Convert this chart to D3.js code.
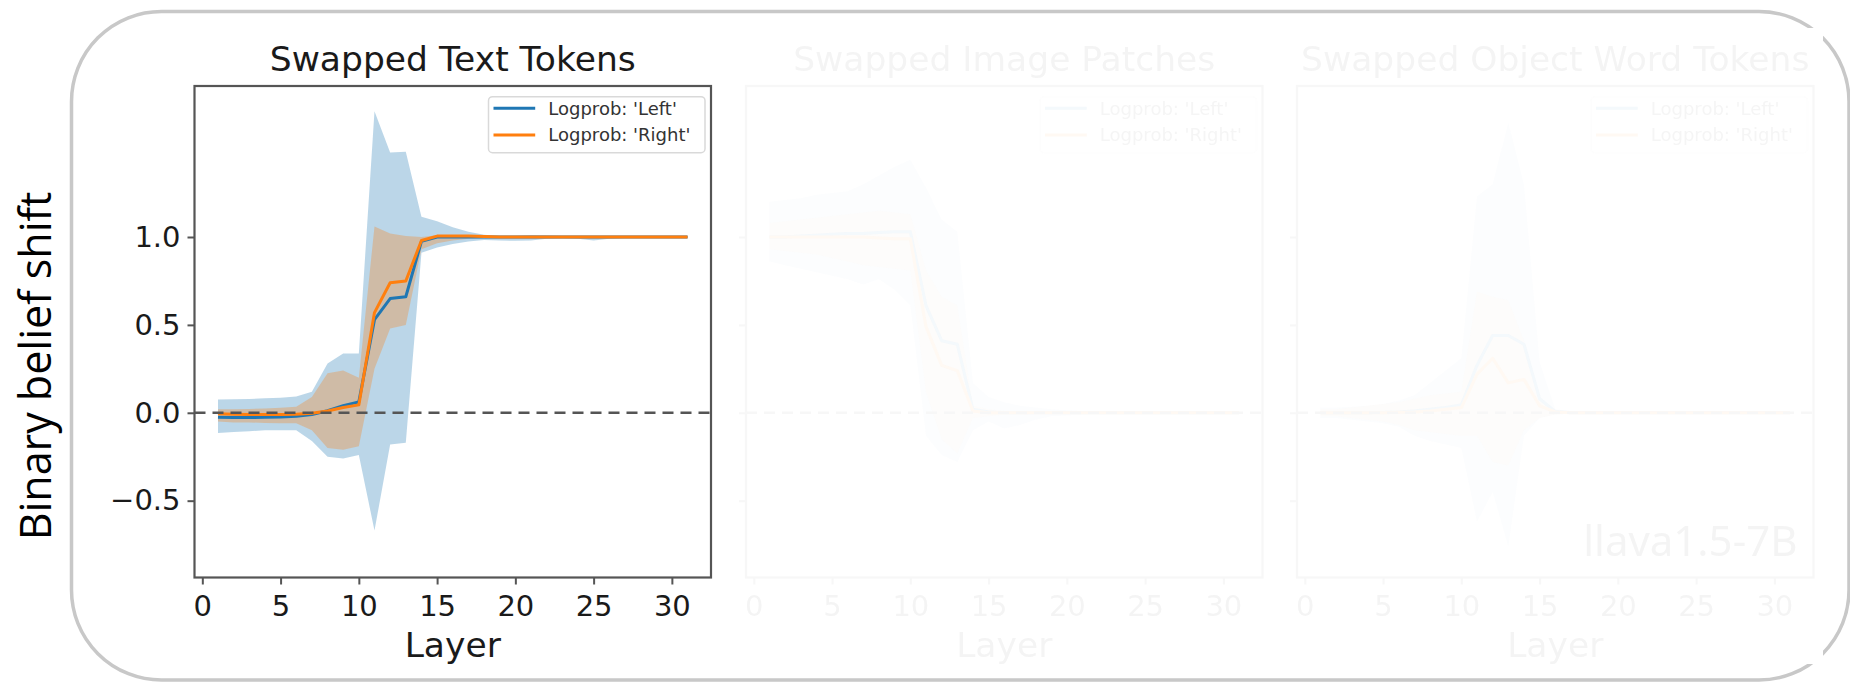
<!DOCTYPE html>
<html>
<head>
<meta charset="utf-8">
<script src="https://cdn.jsdelivr.net/npm/d3@7"></script>
<style>
  html, body { margin: 0; padding: 0; background: #fff; }
  svg { display: block; }
</style>
</head>
<body>
<svg id="chart" width="1850" height="683"></svg>
<script>
// ---- data -------------------------------------------------------------
const layers = [1,2,3,4,5,6,7,8,9,10,11,12,13,14,15,16,17,18,19,20,21,22,23,24,25,26,27,28,29,30,31];

const panelTitles = ["Swapped Text Tokens", "Swapped Image Patches", "Swapped Object Word Tokens"];
const seriesNames = ["Logprob: 'Left'", "Logprob: 'Right'"];
const xTickValues = [0, 5, 10, 15, 20, 25, 30];
const yTickValues = [-0.5, 0.0, 0.5, 1.0];
const modelLabel = "llava1.5-7B";

// Swapped Text Tokens
const textLeftMean  = [-0.025,-0.027,-0.027,-0.026,-0.024,-0.02,-0.01,0.012,0.04,0.062,0.53,0.65,0.66,0.975,1.0,1.0,1.0,1.0,1.0,1.0,1.0,1.0,1.0,1.0,1.0,1.0,1.0,1.0,1.0,1.0,1.0];
const textLeftLo    = [-0.115,-0.11,-0.105,-0.10,-0.10,-0.10,-0.16,-0.25,-0.26,-0.24,-0.67,-0.18,-0.17,0.91,0.94,0.96,0.975,0.983,0.98,0.978,0.98,0.99,0.993,0.99,0.98,0.99,0.994,0.995,0.995,0.995,0.995];
const textLeftHi    = [0.076,0.077,0.079,0.082,0.086,0.092,0.12,0.28,0.337,0.337,1.715,1.48,1.485,1.115,1.09,1.055,1.03,1.013,1.006,1.005,1.01,1.008,1.005,1.005,1.005,1.005,1.005,1.005,1.005,1.005,1.005];
const textRightMean = [-0.005,-0.008,-0.01,-0.01,-0.01,-0.008,-0.003,0.01,0.03,0.045,0.57,0.74,0.75,0.98,1.005,1.005,1.005,1.003,1.0,1.0,1.0,1.0,1.0,1.0,1.0,1.0,1.0,1.0,1.0,1.0,1.0];
const textRightLo   = [-0.05,-0.055,-0.055,-0.058,-0.06,-0.06,-0.1,-0.2,-0.21,-0.19,0.25,0.48,0.5,0.93,0.965,0.98,0.99,0.993,0.995,0.995,0.995,0.995,0.995,0.995,0.995,0.995,0.995,0.995,0.995,0.995,0.995];
const textRightHi   = [0.02,0.02,0.022,0.025,0.028,0.035,0.09,0.225,0.24,0.2,1.06,1.02,1.005,1.0,1.01,1.01,1.008,1.005,1.005,1.005,1.005,1.005,1.005,1.005,1.005,1.005,1.005,1.005,1.005,1.005,1.005];

// Swapped Image Patches
const imgLeftMean  = [1.0,1.0,1.005,1.01,1.015,1.02,1.02,1.025,1.03,1.03,0.61,0.41,0.39,0.02,0.005,0.0,0.0,0.0,0.0,0.0,0.0,0.0,0.0,0.0,0.0,0.0,0.0,0.0,0.0,0.0,0.0];
const imgLeftLo    = [0.86,0.84,0.82,0.80,0.78,0.76,0.73,0.76,0.70,0.61,-0.13,-0.24,-0.28,-0.10,-0.05,-0.09,-0.07,-0.04,-0.02,-0.015,-0.01,-0.01,-0.01,-0.01,-0.01,-0.01,-0.01,-0.01,-0.01,-0.01,-0.01];
const imgLeftHi    = [1.2,1.21,1.22,1.24,1.25,1.26,1.30,1.35,1.40,1.44,1.28,1.10,1.03,0.17,0.09,0.06,0.04,0.03,0.02,0.015,0.01,0.01,0.01,0.01,0.01,0.01,0.01,0.01,0.01,0.01,0.01];
const imgRightMean = [1.0,1.0,1.0,1.0,1.0,1.0,1.0,0.995,0.99,0.99,0.49,0.27,0.24,0.01,0.0,0.0,0.0,0.0,0.0,0.0,0.0,0.0,0.0,0.0,0.0,0.0,0.0,0.0,0.0,0.0,0.0];
const imgRightLo   = [0.93,0.92,0.91,0.90,0.88,0.86,0.84,0.83,0.82,0.81,0.12,-0.15,-0.23,-0.03,-0.02,-0.01,-0.01,-0.005,-0.005,-0.005,-0.005,-0.005,-0.005,-0.005,-0.005,-0.005,-0.005,-0.005,-0.005,-0.005,-0.005];
const imgRightHi   = [1.08,1.09,1.10,1.11,1.12,1.13,1.14,1.15,1.14,1.13,0.81,0.66,0.61,0.04,0.02,0.01,0.01,0.005,0.005,0.005,0.005,0.005,0.005,0.005,0.005,0.005,0.005,0.005,0.005,0.005,0.005];

// Swapped Object Word Tokens
const objLeftMean  = [0.0,0.0,0.0,0.0,0.002,0.005,0.01,0.02,0.03,0.044,0.27,0.44,0.44,0.39,0.08,0.007,0.0,0.0,0.0,0.0,0.0,0.0,0.0,0.0,0.0,0.0,0.0,0.0,0.0,0.0,0.0];
const objLeftLo    = [-0.03,-0.03,-0.04,-0.05,-0.06,-0.08,-0.13,-0.16,-0.18,-0.2,-0.62,-0.45,-0.76,-0.13,-0.03,-0.01,-0.005,-0.005,-0.005,-0.005,-0.005,-0.005,-0.005,-0.005,-0.005,-0.005,-0.005,-0.005,-0.005,-0.005,-0.005];
const objLeftHi    = [0.03,0.03,0.035,0.04,0.05,0.07,0.1,0.17,0.24,0.31,1.23,1.3,1.65,1.3,0.29,0.02,0.01,0.005,0.005,0.005,0.005,0.005,0.005,0.005,0.005,0.005,0.005,0.005,0.005,0.005,0.005];
const objRightMean = [0.0,0.0,0.0,0.0,0.0,0.003,0.005,0.01,0.02,0.03,0.22,0.31,0.17,0.19,0.04,0.005,0.0,0.0,0.0,0.0,0.0,0.0,0.0,0.0,0.0,0.0,0.0,0.0,0.0,0.0,0.0];
const objRightLo   = [-0.02,-0.02,-0.03,-0.04,-0.05,-0.07,-0.1,-0.11,-0.12,-0.13,-0.13,-0.28,-0.3,-0.1,-0.03,-0.01,-0.005,-0.005,-0.005,-0.005,-0.005,-0.005,-0.005,-0.005,-0.005,-0.005,-0.005,-0.005,-0.005,-0.005,-0.005];
const objRightHi   = [0.02,0.02,0.03,0.04,0.05,0.06,0.08,0.1,0.11,0.12,0.69,0.66,0.64,0.41,0.07,0.01,0.005,0.005,0.005,0.005,0.005,0.005,0.005,0.005,0.005,0.005,0.005,0.005,0.005,0.005,0.005];

// ---- layout -------------------------------------------------------------
const svg = d3.select("#chart");
const FONT = "'DejaVu Sans', sans-serif";
const BLUE = "#1f77b4", ORANGE = "#ff7f0e";
const plotW = 516.5, plotTop = 86, plotBottom = 577.5;
const panelLefts = [194.5, 746, 1297];
const panelOpacity = [1, 0.05, 0.05];

const y = d3.scaleLinear().domain([-0.937, 1.859]).range([plotBottom, plotTop]);

// rounded outer frame
svg.append("rect")
  .attr("x", 71.5).attr("y", 11.5)
  .attr("width", 1777.5).attr("height", 668.5)
  .attr("rx", 90).attr("ry", 90)
  .attr("fill", "#fff").attr("stroke", "#c8c8c8").attr("stroke-width", 3.5);

// white backing of the third figure, sitting over the frame's right side
svg.append("rect")
  .attr("x", 1275).attr("y", 28).attr("width", 548).attr("height", 636)
  .attr("fill", "#fff");

// shared y-axis title
svg.append("text")
  .attr("transform", "translate(51,366) rotate(-90)")
  .attr("text-anchor", "middle")
  .attr("font-family", "'Open Sans', sans-serif")
  .attr("font-size", 43)
  .attr("fill", "#000")
  .text("Binary belief shift");

const panels = [
  { left: [textLeftMean, textLeftLo, textLeftHi], right: [textRightMean, textRightLo, textRightHi] },
  { left: [imgLeftMean, imgLeftLo, imgLeftHi],    right: [imgRightMean, imgRightLo, imgRightHi] },
  { left: [objLeftMean, objLeftLo, objLeftHi],    right: [objRightMean, objRightLo, objRightHi] }
];

panels.forEach((p, i) => {
  const x0 = panelLefts[i];
  const x = d3.scaleLinear().domain([-0.5, 32.5]).range([x0, x0 + plotW]);
  const g = svg.append("g").attr("opacity", panelOpacity[i]);
  const cx = x0 + plotW / 2;

  // title
  g.append("text")
    .attr("x", cx).attr("y", 71)
    .attr("text-anchor", "middle")
    .attr("font-family", FONT).attr("font-size", 34.5)
    .attr("fill", "#1a1a1a")
    .text(panelTitles[i]);

  const clipId = "clip" + i;
  g.append("clipPath").attr("id", clipId)
    .append("rect").attr("x", x0).attr("y", plotTop).attr("width", plotW).attr("height", plotBottom - plotTop);
  const plot = g.append("g").attr("clip-path", `url(#${clipId})`);

  const area = (lo, hi) => d3.area()
    .x((d, k) => x(layers[k]))
    .y0((d, k) => y(lo[k]))
    .y1((d, k) => y(hi[k]))(layers);
  const line = (m) => d3.line()
    .x((d, k) => x(layers[k]))
    .y((d, k) => y(m[k]))(layers);

  plot.append("path").attr("d", area(p.left[1], p.left[2])).attr("fill", BLUE).attr("fill-opacity", 0.3);
  plot.append("path").attr("d", area(p.right[1], p.right[2])).attr("fill", ORANGE).attr("fill-opacity", 0.3);
  plot.append("path").attr("d", line(p.left[0])).attr("fill", "none").attr("stroke", BLUE).attr("stroke-width", 3).attr("stroke-linejoin", "round");
  plot.append("path").attr("d", line(p.right[0])).attr("fill", "none").attr("stroke", ORANGE).attr("stroke-width", 3).attr("stroke-linejoin", "round");

  // zero reference line
  plot.append("line")
    .attr("x1", x0).attr("x2", x0 + plotW)
    .attr("y1", y(0)).attr("y2", y(0))
    .attr("stroke", "#555").attr("stroke-width", 2.5)
    .attr("stroke-dasharray", "11,7");

  // axes
  const xAxis = d3.axisBottom(x).tickValues(xTickValues).tickSize(7).tickPadding(10.5).tickFormat(d3.format("d"));
  const gx = g.append("g").attr("transform", `translate(0,${plotBottom})`).call(xAxis);
  const yAxis = d3.axisLeft(y).tickValues(yTickValues).tickSize(7).tickPadding(7)
    .tickFormat(d => d3.format(".1f")(d).replace("-", "\u2212"));
  const gy = g.append("g").attr("transform", `translate(${x0},0)`).call(yAxis);
  if (i > 0) gy.selectAll("text").remove();
  [gx, gy].forEach(a => {
    a.select(".domain").remove();
    a.selectAll(".tick line").attr("stroke", "#555").attr("stroke-width", 2);
    a.selectAll("text").attr("font-family", FONT).attr("font-size", 29).attr("fill", "#1a1a1a");
  });

  // frame
  g.append("rect")
    .attr("x", x0).attr("y", plotTop).attr("width", plotW).attr("height", plotBottom - plotTop)
    .attr("fill", "none").attr("stroke", "#555").attr("stroke-width", 2.2);

  // x-axis title
  g.append("text")
    .attr("x", cx).attr("y", 657)
    .attr("text-anchor", "middle")
    .attr("font-family", FONT).attr("font-size", 34.5)
    .attr("fill", "#1a1a1a")
    .text("Layer");

  // legend
  const lg = g.append("g").attr("transform", `translate(${x0 + plotW - 222.5},96.7)`);
  lg.append("rect").attr("width", 216.5).attr("height", 56).attr("rx", 4)
    .attr("fill", "#fff").attr("fill-opacity", 0.8)
    .attr("stroke", "#d9d9d9").attr("stroke-width", 1.5);
  [BLUE, ORANGE].forEach((c, k) => {
    const ly = 11.6 + k * 26.7;
    lg.append("line").attr("x1", 5).attr("x2", 46.7).attr("y1", ly).attr("y2", ly)
      .attr("stroke", c).attr("stroke-width", 3);
    lg.append("text").attr("x", 59.8).attr("y", ly + 6.5)
      .attr("font-family", FONT).attr("font-size", 18).attr("fill", "#333")
      .text(seriesNames[k]);
  });

  if (i === 2) {
    g.append("text")
      .attr("x", x0 + plotW - 16).attr("y", 556)
      .attr("text-anchor", "end")
      .attr("font-family", "'Noto Sans', sans-serif").attr("font-size", 42)
      .attr("fill", "#1a1a1a")
      .text(modelLabel);
  }
});
</script>
</body>
</html>
